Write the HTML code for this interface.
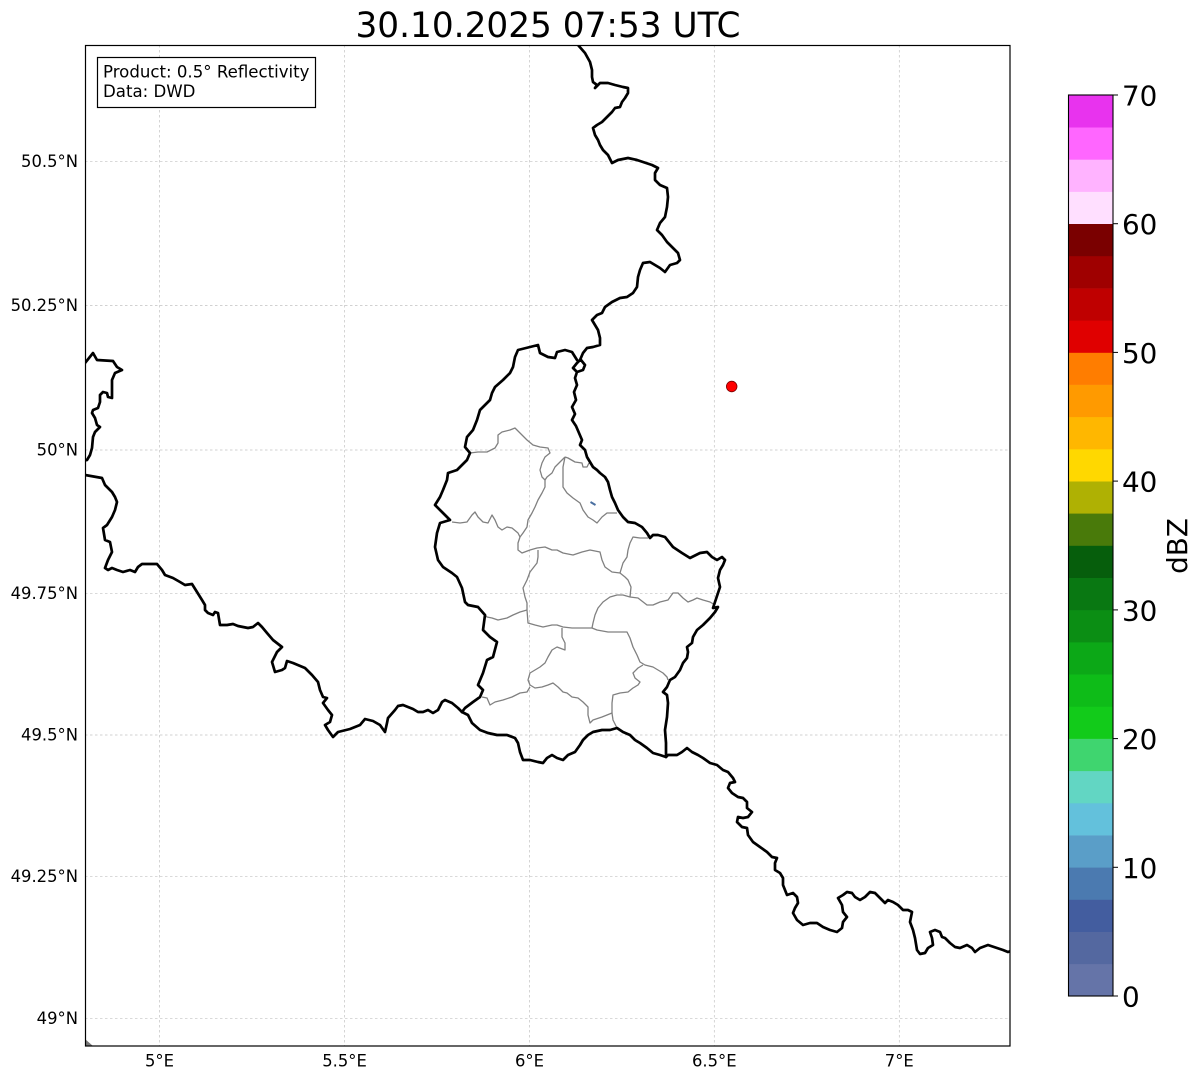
<!DOCTYPE html>
<html><head><meta charset="utf-8"><style>
html,body{margin:0;padding:0;background:#fff;}
svg{display:block;}
text{font-family:"DejaVu Sans","Liberation Sans",sans-serif;fill:#000;}
</style></head><body>
<svg width="1202" height="1081" viewBox="0 0 1202 1081" xmlns="http://www.w3.org/2000/svg">
<rect width="1202" height="1081" fill="#fff"/>
<!-- title -->
<text x="548" y="37" font-size="34.3" text-anchor="middle">30.10.2025 07:53 UTC</text>

<!-- gridlines -->
<g stroke="#c2c2c2" stroke-width="0.7" stroke-dasharray="2.5,2.5" fill="none">
<line x1="159.5" y1="45" x2="159.5" y2="1046"/>
<line x1="344.5" y1="45" x2="344.5" y2="1046"/>
<line x1="529.5" y1="45" x2="529.5" y2="1046"/>
<line x1="714.3" y1="45" x2="714.3" y2="1046"/>
<line x1="899.3" y1="45" x2="899.3" y2="1046"/>
<line x1="85" y1="161.7" x2="1010" y2="161.7"/>
<line x1="85" y1="305.5" x2="1010" y2="305.5"/>
<line x1="85" y1="450" x2="1010" y2="450"/>
<line x1="85" y1="593.3" x2="1010" y2="593.3"/>
<line x1="85" y1="735" x2="1010" y2="735"/>
<line x1="85" y1="876.7" x2="1010" y2="876.7"/>
<line x1="85" y1="1018.3" x2="1010" y2="1018.3"/>
</g>

<defs><clipPath id="ax"><rect x="85" y="45" width="925" height="1001"/></clipPath></defs>
<g clip-path="url(#ax)">
<polygon points="85,1039 93,1046 85,1046" fill="#777"/>
<!-- Luxembourg cantons (gray) -->
<g stroke="#808080" stroke-width="1.3" fill="none" stroke-linejoin="round">
<path d="M470,453 L478,452 L487,452 L495,448 L498,443 L498,435 L502,432 L510,430 L515,428 L520,433 L527,440 L533,445 L540,447 L548,448 L550,453 L545,457 L542,463 L540,470 L542,477 L545,480 L545,487 L542,493 L538,500 L535,507 L532,513 L528,520 L527,527 L523,533 L520,537 L518,543 L518,550 L522,553 L530,550 L537,548 L545,547 L552,550 L557,550 L563,553 L573,555 L582,552 L590,550 L600,552 L602,560 L605,567 L612,572 L620,573 L625,577 L628,580 L631,587 L630,597"/>
<path d="M452,522 L460,523 L467,522 L472,515 L475,512 L478,517 L483,522 L488,523 L492,515 L495,520 L498,527 L502,530 L507,527 L512,528 L518,533 L520,537"/>
<path d="M565,457 L568,458 L575,462 L582,463 L583,467 L587,467 L589,463"/>
<path d="M565,457 L563,467 L563,477 L563,487 L567,493 L573,498 L580,503 L583,510 L588,517 L593,520 L597,523 L602,517 L607,513 L612,513 L617,513"/>
<path d="M565,457 L560,462 L555,467 L552,473 L547,477 L545,480"/>
<path d="M648,538 L640,538 L633,537 L630,543 L628,550 L627,557 L623,563 L620,573"/>
<path d="M538,550 L538,557 L537,563 L530,572 L527,580 L523,588 L525,597 L527,603 L527,610 L528,623 L535,625 L543,627 L552,625 L557,625 L563,627 L572,628 L580,628 L592,628 L597,630 L608,632 L617,632 L627,632 L630,638 L633,647 L637,655 L640,662 L645,665 L653,667 L658,670 L663,673 L667,677 L668,680"/>
<path d="M485,615 L487,617 L492,618 L498,620 L507,618 L513,615 L520,612 L527,610"/>
<path d="M562,628 L562,637 L565,643 L565,650 L557,647 L552,650 L548,657 L545,663 L540,667 L535,670 L530,673 L528,680 L530,685 L535,688 L542,687 L548,685 L553,683 L558,687 L563,692 L567,693 L572,697 L578,698 L583,702 L588,707 L588,715 L590,723 L593,720 L602,717 L612,713 L613,720 L617,728"/>
<path d="M612,713 L612,703 L613,695 L620,693 L628,692 L633,688 L638,685 L640,682 L635,678 L633,673 L638,668 L643,665"/>
<path d="M482,697 L487,698 L490,705 L495,702 L503,700 L512,697 L520,693 L527,692 L530,687"/>
<path d="M592,628 L593,623 L595,615 L598,608 L603,602 L610,597 L617,595 L623,595 L630,597 L638,598 L647,605 L653,605 L660,602 L668,600 L673,593 L678,593 L683,598 L688,602 L693,600 L697,598 L703,600 L710,602 L715,605"/>
</g>
<line x1="590.5" y1="502" x2="595.5" y2="505" stroke="#4a6fa0" stroke-width="2"/>

<!-- country borders -->
<g stroke="#000" stroke-width="2.7" fill="none" stroke-linejoin="round" stroke-linecap="round">
<path d="M578,45 L585,53 L590,62 L592,70 L592,77 L593,82 L597,85 L595,88 L600,83 L608,83 L615,85 L623,87 L628,88 L628,93 L625,98 L622,102 L620,107 L615,108 L612,112 L607,117 L602,122 L597,125 L593,128 L595,135 L598,140 L600,145 L603,150 L608,155 L612,163 L618,160 L628,158 L637,160 L643,162 L652,165 L658,168 L655,173 L655,180 L660,185 L667,188 L668,197 L667,207 L665,217 L660,223 L657,230 L662,235 L667,242 L673,248 L678,253 L680,260 L677,263 L670,265 L665,272 L660,268 L655,265 L650,262 L643,263 L640,270 L638,277 L637,287 L633,293 L627,297 L620,298 L612,302 L605,307 L602,313 L597,315 L592,320 L595,325 L598,330 L600,338 L600,345 L593,347 L587,348 L583,353 L580,360 L577,363 L573,368 L577,372 L583,370 L585,365 L581,360 M577,372 L575,378 L577,385 L574,392 L576,400 L572,407 L575,414 L572,420 L576,426 L579,433 L582,440 L580,445 L585,450 L587,457 L590,462 L593,467 L597,470 L600,473 L605,477 L608,482 L610,490 L612,497 L615,503 L618,510 L623,517 L628,522 L635,523 L642,527 L647,533 L650,538 L653,535 L658,535 L665,537 L673,547 L682,553 L690,558 L700,553 L707,552 L712,557 L717,560 L722,557 L725,560 L723,565 L720,570 L718,578 L720,587 L718,593 L715,602 L713,608 L718,607 L715,612 L710,618 L703,625 L697,630 L693,637 L692,643 L687,647 L688,652 L687,658 L683,663 L680,670 L675,677 L670,680 L667,687 L663,692 L667,695 L668,703 L667,717 L665,730 L666,743 L666,757 L668,755 L677,755 L682,752 L687,748 L692,752 L698,755 L703,758 L710,763 L717,765 L723,770 L728,772 L733,778 L735,782 L730,783 L728,788 L732,793 L738,797 L743,798 L747,802 L747,808 L752,812 L748,817 L743,818 L738,817 L737,822 L742,827 L747,828 L748,835 L753,842 L760,847 L767,852 L772,857 L777,858 L775,863 L775,870 L780,873 L783,878 L783,885 L787,895 L793,893 L797,897 L798,903 L795,908 L793,913 L797,920 L803,925 L810,923 L817,923 L823,927 L830,930 L837,932 L842,928 L843,922 L847,917 L843,912 L842,905 L838,898 L843,895 L847,892 L852,893 L855,897 L860,900 L865,897 L870,892 L875,893 L880,898 L885,903 L888,900 L893,902 L898,905 L903,910 L908,910 L912,912 L910,922 L913,930 L915,938 L917,950 L920,954 L925,953 L928,948 L933,945 L932,938 L930,932 L935,930 L940,932 L942,937 L945,938 L950,943 L955,947 L960,948 L967,945 L972,948 L975,952 L980,948 L988,945 L997,948 L1003,950 L1008,952 L1014,950"/>
<path d="M462,712 L468,715 L472,723 L480,730 L488,733 L497,735 L507,735 L515,738 L518,743 L520,752 L523,760 L530,760 L538,762 L543,763 L547,758 L552,755 L557,758 L563,760 L568,755 L575,752 L580,745 L583,740 L588,735 L593,732 L602,730 L610,730 L617,728 L623,732 L630,735 L635,740 L640,743 L647,748 L653,753 L660,755 L666,757"/>
<path d="M577,360 L572,352 L565,350 L557,352 L555,358 L548,357 L540,353 L538,345 L518,350 L515,357 L513,367 L510,373 L503,380 L495,387 L492,393 L490,400 L487,403 L480,410 L477,420 L473,430 L467,437 L465,447 L470,453 L467,460 L462,465 L457,470 L448,473 L447,480 L443,490 L440,497 L435,505 L442,512 L450,520 L440,523 L437,533 L435,547 L438,560 L443,567 L452,573 L457,577 L462,588 L465,602 L468,605 L478,607 L485,615 L483,630 L490,637 L497,642 L493,657 L487,660 L483,673 L478,685 L483,690 L480,697 L473,702 L465,708 L462,712"/>
<path d="M80,475 L85,475 L102,478 L105,485 L112,492 L115,497 L117,502 L115,510 L112,517 L107,525 L103,528 L105,540 L110,542 L112,552 L108,560 L105,568 L108,570 L112,568 L117,570 L123,572 L130,570 L135,572 L138,567 L142,564 L157,564 L162,570 L165,575 L173,578 L180,582 L185,585 L192,584 L197,592 L202,600 L205,605 L205,610 L208,613 L213,615 L215,612 L218,613 L220,625 L227,625 L233,624 L238,626 L243,627 L248,628 L253,627 L258,623 L262,627 L267,633 L273,640 L282,647 L277,652 L272,662 L275,672 L282,670 L285,668 L287,661 L293,663 L305,668 L312,675 L318,682 L320,690 L323,697 L327,698 L323,703 L328,710 L332,715 L330,722 L325,725 L328,730 L333,737 L338,732 L350,729 L360,725 L365,719 L373,721 L380,725 L385,732 L387,723 L388,718 L395,710 L398,706 L403,705 L408,707 L413,709 L418,712 L423,712 L428,710 L433,713 L438,710 L442,702 L445,700 L452,703 L458,708 L462,712"/>
<path d="M80,368 L85,363 L93,353 L97,360 L113,361 L117,367 L122,370 L115,373 L112,380 L112,390 L112,398 L108,397 L107,393 L103,392 L100,395 L100,402 L98,408 L93,410 L92,413 L95,418 L97,425 L100,427 L95,432 L93,437 L92,448 L90,455 L87,460 L80,461"/>
</g>
<circle cx="731.7" cy="386.5" r="5.3" fill="#ff0000" stroke="#7a0000" stroke-width="0.8"/>
</g>

<!-- axes frame -->
<rect x="85.5" y="45.5" width="924.5" height="1000.5" fill="none" stroke="#000" stroke-width="1.2"/>

<!-- info box -->
<rect x="97.5" y="57.5" width="218" height="50" fill="#fff" stroke="#000" stroke-width="1.2"/>
<text x="103" y="77.5" font-size="16.6">Product: 0.5° Reflectivity</text>
<text x="103" y="97" font-size="16.6">Data: DWD</text>

<!-- tick labels -->
<g font-size="16.4" text-anchor="end">
<text x="78" y="167.2">50.5°N</text>
<text x="78" y="311">50.25°N</text>
<text x="78" y="455.5">50°N</text>
<text x="78" y="598.8">49.75°N</text>
<text x="78" y="740.5">49.5°N</text>
<text x="78" y="882.2">49.25°N</text>
<text x="78" y="1023.8">49°N</text>
</g>
<g font-size="16.4" text-anchor="middle">
<text x="159.5" y="1066.5">5°E</text>
<text x="344.5" y="1066.5">5.5°E</text>
<text x="529.5" y="1066.5">6°E</text>
<text x="714.3" y="1066.5">6.5°E</text>
<text x="899.3" y="1066.5">7°E</text>
</g>

<!-- colorbar -->
<g>
<rect x="1068.5" y="963.8" width="44.5" height="32.2" fill="#6574a8"/>
<rect x="1068.5" y="931.6" width="44.5" height="32.5" fill="#5468a0"/>
<rect x="1068.5" y="899.5" width="44.5" height="32.5" fill="#435d9f"/>
<rect x="1068.5" y="867.3" width="44.5" height="32.5" fill="#4b7ab0"/>
<rect x="1068.5" y="835.1" width="44.5" height="32.5" fill="#5a9ec8"/>
<rect x="1068.5" y="802.9" width="44.5" height="32.5" fill="#63c1dc"/>
<rect x="1068.5" y="770.8" width="44.5" height="32.5" fill="#62d6c3"/>
<rect x="1068.5" y="738.6" width="44.5" height="32.5" fill="#3fd56f"/>
<rect x="1068.5" y="706.4" width="44.5" height="32.5" fill="#12cb1a"/>
<rect x="1068.5" y="674.2" width="44.5" height="32.5" fill="#0ebc18"/>
<rect x="1068.5" y="642.0" width="44.5" height="32.5" fill="#0ca817"/>
<rect x="1068.5" y="609.9" width="44.5" height="32.5" fill="#0b8e14"/>
<rect x="1068.5" y="577.7" width="44.5" height="32.5" fill="#097812"/>
<rect x="1068.5" y="545.5" width="44.5" height="32.5" fill="#065e0c"/>
<rect x="1068.5" y="513.3" width="44.5" height="32.5" fill="#497a0a"/>
<rect x="1068.5" y="481.1" width="44.5" height="32.5" fill="#afb103"/>
<rect x="1068.5" y="449.0" width="44.5" height="32.5" fill="#ffd800"/>
<rect x="1068.5" y="416.8" width="44.5" height="32.5" fill="#ffb700"/>
<rect x="1068.5" y="384.6" width="44.5" height="32.5" fill="#ff9a00"/>
<rect x="1068.5" y="352.4" width="44.5" height="32.5" fill="#ff7d00"/>
<rect x="1068.5" y="320.3" width="44.5" height="32.5" fill="#e00000"/>
<rect x="1068.5" y="288.1" width="44.5" height="32.5" fill="#bf0000"/>
<rect x="1068.5" y="255.9" width="44.5" height="32.5" fill="#9f0000"/>
<rect x="1068.5" y="223.7" width="44.5" height="32.5" fill="#7a0000"/>
<rect x="1068.5" y="191.5" width="44.5" height="32.5" fill="#ffdfff"/>
<rect x="1068.5" y="159.4" width="44.5" height="32.5" fill="#ffb3ff"/>
<rect x="1068.5" y="127.2" width="44.5" height="32.5" fill="#ff66ff"/>
<rect x="1068.5" y="95" width="44.5" height="32.5" fill="#e833ee"/>
<rect x="1068.5" y="95" width="44.5" height="901" fill="none" stroke="#000" stroke-width="1.1"/>
</g>
<g stroke="#000" stroke-width="1">
<line x1="1113" y1="996" x2="1118" y2="996"/>
<line x1="1113" y1="867.3" x2="1118" y2="867.3"/>
<line x1="1113" y1="738.6" x2="1118" y2="738.6"/>
<line x1="1113" y1="609.9" x2="1118" y2="609.9"/>
<line x1="1113" y1="481.1" x2="1118" y2="481.1"/>
<line x1="1113" y1="352.4" x2="1118" y2="352.4"/>
<line x1="1113" y1="223.7" x2="1118" y2="223.7"/>
<line x1="1113" y1="95" x2="1118" y2="95"/>
</g>
<g font-size="27.8">
<text x="1122" y="1006.5">0</text>
<text x="1122" y="877.8">10</text>
<text x="1122" y="749.1">20</text>
<text x="1122" y="620.4">30</text>
<text x="1122" y="491.6">40</text>
<text x="1122" y="362.9">50</text>
<text x="1122" y="234.2">60</text>
<text x="1122" y="105.5">70</text>
</g>
<text transform="translate(1187,546) rotate(-90)" font-size="27.8" text-anchor="middle">dBZ</text>
</svg>
</body></html>
